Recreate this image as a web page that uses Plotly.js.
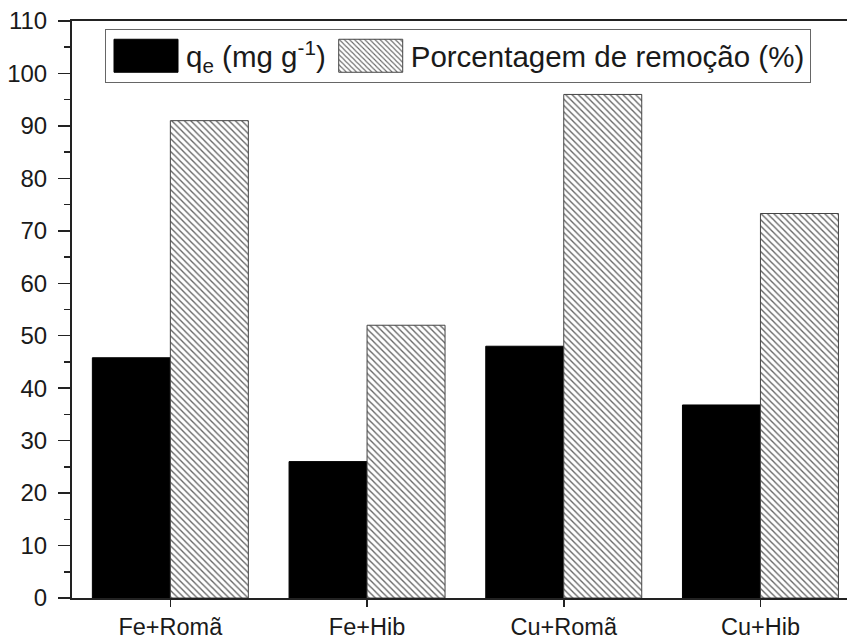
<!DOCTYPE html>
<html>
<head>
<meta charset="utf-8">
<script src="https://cdn.plot.ly/plotly-3.0.1.min.js"></script>
<style>html,body{margin:0;padding:0;background:#fff;}</style>
</head>
<body>
<div id="chart" style="width:847px;height:640px;"></div>
<script>
const categories = ["Fe+Romã", "Fe+Hib", "Cu+Romã", "Cu+Hib"];
const qeValues = [45.8, 26.0, 48.0, 36.8];
const removalValues = [91.0, 52.0, 96.0, 73.3];
const seriesNames = ["q<sub>e</sub> (mg g<sup>-1</sup>)", "Porcentagem de remoção (%)"];
const yTickValues = [0, 10, 20, 30, 40, 50, 60, 70, 80, 90, 100, 110];

const font = "Liberation Sans, Arial, sans-serif";

const traces = [
  {
    type: "bar", x: categories, y: qeValues, name: seriesNames[0],
    marker: { color: "#000", line: { color: "#000", width: 1 } }
  },
  {
    type: "bar", x: categories, y: removalValues, name: seriesNames[1],
    marker: {
      color: "#fff",
      line: { color: "#444", width: 1 },
      pattern: { shape: "\\", fgcolor: "#666", bgcolor: "#fff", size: 4.5, solidity: 0.3 }
    }
  }
];

const layout = {
  width: 847, height: 640,
  margin: { l: 72, r: 0, t: 21, b: 42 },
  paper_bgcolor: "#fff", plot_bgcolor: "#fff",
  barmode: "group", bargap: 0.207, bargroupgap: 0,
  font: { family: font, color: "#1a1a1a", size: 24 },
  showlegend: true,
  legend: {
    orientation: "h", x: 0.0426, y: 0.986, xanchor: "left", yanchor: "top",
    bordercolor: "#666", borderwidth: 1, bgcolor: "#fff",
    font: { family: font, size: 29.5, color: "#1a1a1a" },
    itemwidth: 70, traceorder: "normal"
  },
  xaxis: {
    type: "category", range: [-0.5, 3.44],
    showline: true, linecolor: "#222", linewidth: 2, mirror: true,
    ticks: "outside", ticklen: 7, tickwidth: 1.5, tickcolor: "#222",
    showgrid: false, zeroline: false,
    tickfont: { family: font, size: 23.5, color: "#1a1a1a" }
  },
  yaxis: {
    range: [0, 110], tickvals: yTickValues,
    showline: true, linecolor: "#222", linewidth: 2,
    ticks: "outside", ticklen: 12, tickwidth: 1.5, tickcolor: "#222",
    ticklabelstandoff: 6,
    minor: { dtick: 5, ticks: "outside", ticklen: 6, tickwidth: 1.5, tickcolor: "#222" },
    showgrid: false, zeroline: false,
    tickfont: { family: font, size: 24, color: "#1a1a1a" }
  }
};

Plotly.newPlot("chart", traces, layout, { staticPlot: true }).then(function () {
  document.querySelectorAll(".legend .legendpoints path").forEach(function (p) {
    p.setAttribute("d", "M32,16.5H-32V-16.5H32Z");
  });
});
</script>
</body>
</html>
